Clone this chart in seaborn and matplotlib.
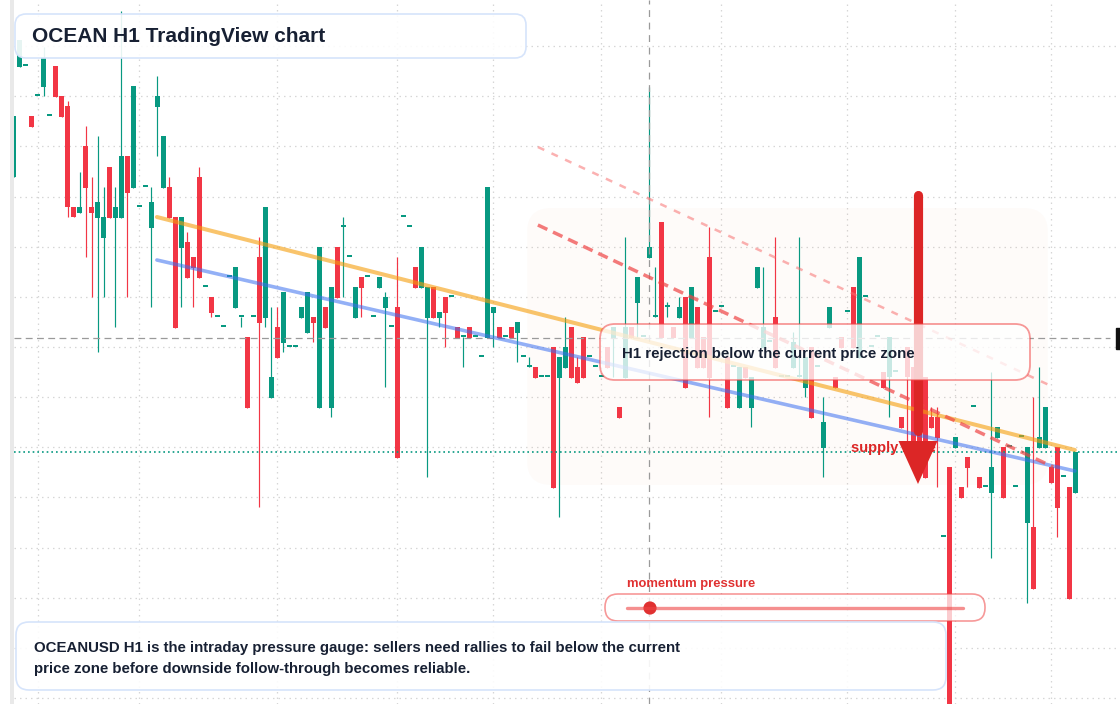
import numpy as np
import pandas as pd
import matplotlib
matplotlib.use("Agg")
import matplotlib.pyplot as plt
import seaborn as sns
from matplotlib.patches import FancyBboxPatch, Rectangle, Polygon, Circle
from matplotlib.lines import Line2D
from matplotlib.transforms import IdentityTransform

# ---- OCEANUSD H1 candles ----
opens = [
    .623, .733, .734, .684, .704, .713, .684, .734, .704, .694,
    .593, .587, .654, .593, .582, .562, .633, .582, .582, .644,
    .612, .593, .613, .572, .693, .612, .613, .583, .552, .558,
    .543, .623, .513, .503, .483, .473, .523, .492, .483, .463,
    .483, .543, .482, .402, .473, .457, .453, .453, .482, .467,
    .483, .392, .493, .392, .553, .573, .543, .482, .523, .523,
    .483, .512, .492, .473, .493, .583, .573, .533, .512, .482,
    .513, .482, .503, .503, .473, .463, .473, .463, .443, .462,
    .487, .473, .463, .473, .467, .443, .433, .433, .423, .423,
    .453, .422, .432, .473, .433, .463, .443, .433, .423, .453,
    .462, .393, .422, .473, .497, .463, .542, .483, .578, .493,
    .473, .482, .503, .462, .493, .463, .543, .488, .493, .443,
    .433, .392, .433, .392, .512, .452, .458, .483, .423, .423,
    .432, .423, .412, .453, .433, .352, .472, .423, .463, .488,
    .513, .442, .503, .453, .463, .428, .423, .428, .383, .453,
    .433, .413, .423, .383, .383, .263, .333, .352, .313, .343,
    .393, .323, .313, .307, .362, .353, .353, .313, .363, .277,
    .273, .352, .352, .333, .353, .323, .313, .307,
]
highs = [
    .684, .760, .734, .684, .704, .753, .684, .734, .704, .699,
    .593, .628, .674, .623, .664, .613, .633, .613, .789, .644,
    .714, .593, .613, .613, .724, .664, .623, .583, .583, .568,
    .543, .633, .513, .503, .483, .473, .523, .533, .483, .463,
    .483, .563, .593, .493, .493, .508, .453, .453, .493, .508,
    .483, .553, .493, .513, .553, .583, .543, .513, .523, .523,
    .483, .523, .508, .473, .543, .583, .573, .533, .553, .513,
    .513, .488, .503, .503, .473, .463, .473, .463, .443, .613,
    .493, .473, .463, .473, .478, .443, .443, .433, .423, .423,
    .453, .443, .483, .473, .443, .463, .443, .433, .423, .453,
    .473, .393, .563, .473, .523, .463, .713, .533, .578, .498,
    .473, .503, .503, .513, .493, .463, .573, .488, .493, .443,
    .433, .433, .433, .423, .533, .533, .458, .563, .423, .423,
    .468, .563, .443, .453, .433, .403, .493, .423, .463, .488,
    .513, .543, .503, .453, .463, .428, .463, .428, .383, .453,
    .433, .413, .423, .393, .393, .263, .333, .363, .313, .343,
    .393, .323, .313, .428, .373, .353, .353, .313, .363, .353,
    .403, .433, .393, .333, .353, .323, .313, .348,
]
lows = [
    .623, .733, .734, .673, .704, .704, .684, .703, .683, .583,
    .583, .587, .543, .503, .448, .503, .582, .473, .582, .503,
    .612, .593, .613, .493, .644, .612, .582, .472, .493, .522,
    .493, .522, .513, .483, .483, .473, .523, .492, .473, .392,
    .483, .293, .473, .402, .442, .448, .453, .453, .482, .467,
    .458, .392, .472, .383, .502, .503, .543, .482, .483, .523,
    .483, .512, .413, .473, .342, .583, .573, .512, .512, .323,
    .482, .473, .453, .503, .462, .433, .462, .463, .443, .462,
    .453, .462, .463, .462, .438, .443, .433, .422, .423, .423,
    .312, .283, .432, .422, .417, .422, .443, .433, .423, .432,
    .423, .382, .422, .462, .463, .463, .542, .483, .462, .483,
    .462, .482, .412, .462, .432, .432, .383, .488, .493, .392,
    .433, .392, .422, .373, .512, .452, .458, .432, .423, .423,
    .432, .423, .403, .382, .433, .323, .472, .412, .452, .488,
    .452, .442, .503, .453, .463, .412, .383, .428, .372, .357,
    .357, .338, .322, .372, .313, .263, .094, .352, .302, .313,
    .393, .312, .313, .242, .362, .302, .353, .313, .363, .197,
    .211, .352, .352, .317, .263, .323, .201, .307,
]
closes = [
    .684, .760, .734, .673, .704, .742, .684, .703, .683, .593,
    .583, .593, .612, .587, .598, .583, .582, .593, .644, .607,
    .714, .593, .613, .598, .704, .664, .582, .472, .583, .522,
    .532, .522, .513, .487, .483, .473, .523, .533, .483, .392,
    .483, .477, .593, .423, .442, .508, .453, .453, .493, .508,
    .477, .553, .472, .513, .502, .573, .543, .513, .512, .523,
    .483, .523, .503, .473, .342, .583, .573, .512, .553, .513,
    .482, .488, .487, .503, .462, .463, .462, .463, .443, .613,
    .493, .462, .463, .462, .478, .443, .433, .422, .423, .423,
    .312, .443, .453, .422, .417, .422, .443, .433, .423, .432,
    .473, .382, .473, .462, .523, .463, .553, .483, .462, .493,
    .462, .493, .412, .513, .432, .432, .422, .488, .493, .392,
    .433, .433, .422, .423, .533, .473, .458, .432, .423, .423,
    .458, .423, .443, .382, .433, .378, .493, .412, .452, .488,
    .452, .543, .503, .453, .463, .412, .463, .428, .372, .423,
    .357, .338, .322, .372, .362, .263, .094, .363, .302, .332,
    .393, .312, .313, .333, .373, .302, .353, .313, .363, .353,
    .211, .363, .393, .317, .292, .323, .201, .348,
]

# chart furniture
time_grid_idx = [4, 21, 44, 64, 80, 98, 118, 139, 157, 173]
price_grid = [0.102, 0.152, 0.202, 0.252, 0.303, 0.353, 0.403, 0.453,
              0.503, 0.553, 0.603, 0.654, 0.704, 0.754]
current_price = 0.462
teal_level = 0.348
crosshair_idx = 106

trend_idx = [23.9, 176.9]
orange_trend = [0.583, 0.350]
blue_trend = [0.540, 0.329]
red_dash_idx = [87.4, 173.3]
red_dash_hi = [0.653, 0.413]
red_dash_lo = [0.575, 0.333]
zone_idx = [85.6, 172.4]
zone_price = [0.315, 0.592]
arrow_idx = 150.75
arrow_from, arrow_head, arrow_tip = 0.605, 0.359, 0.316

title = "OCEAN H1 TradingView chart"
note_text = "H1 rejection below the current price zone"
supply_label = "supply zone"
gauge_label = "momentum pressure"
summary = ("OCEANUSD H1 is the intraday pressure gauge: sellers need rallies to fail below the current\n"
           "price zone before downside follow-through becomes reliable.")

W, H = 1120, 704
UP, DOWN = "#089981", "#f23645"
INK = "#172033"

sns.set_theme(style="white")
plt.rcParams["font.family"] = ["Liberation Sans", "DejaVu Sans"]

fig = plt.figure(figsize=(W / 100, H / 100), dpi=100)
fig.patch.set_facecolor("white")
ax = fig.add_axes([14 / W, 0, (W - 14) / W, 1])
ax.set_facecolor("white")

df = pd.DataFrame({"open": opens, "high": highs, "low": lows, "close": closes})
df["idx"] = np.arange(len(df))
colors = np.where(df["close"] >= df["open"], UP, DOWN)

ax.vlines(df["idx"], df["low"], df["high"], colors=colors, lw=0.85, zorder=3)
body_h = np.maximum((df["close"] - df["open"]).abs(), 0.0016)
ax.bar(df["idx"], body_h, bottom=np.minimum(df["open"], df["close"]),
       width=0.84, color=colors, lw=0, zorder=4)

ax.set_xlim(0.083, 184.42)
ax.set_ylim(0.096, 0.800)

# grid
ax.set_xticks(time_grid_idx)
ax.set_yticks(price_grid)
ax.grid(True, color="#d6d6d6", linestyle=(0, (1.2, 3.2)), lw=0.9, zorder=0)
ax.tick_params(length=0, labelleft=False, labelbottom=False)
for s in ax.spines.values():
    s.set_visible(False)

# shaded zone
(zx0, zy0) = ax.transData.transform((zone_idx[0], zone_price[0]))
(zx1, zy1) = ax.transData.transform((zone_idx[1], zone_price[1]))
ax.add_patch(FancyBboxPatch((zx0, zy0), zx1 - zx0, zy1 - zy0,
                            boxstyle="round,pad=0,rounding_size=24",
                            transform=IdentityTransform(), facecolor="#f97316",
                            alpha=0.022, lw=0, zorder=1))

# reference lines
ax.hlines(current_price, 0.083, 182.7, colors="#9a9a9a", lw=0.9,
          linestyles=[(0, (5.5, 3.5))], zorder=5)
ax.axhline(teal_level, color=UP, lw=1.2, linestyle=(0, (1, 1.8)), zorder=5)
ax.axvline(crosshair_idx, color="#9a9a9a", lw=0.9, linestyle=(0, (5.5, 4.5)), zorder=5)
ax.add_patch(Rectangle((183.75, 0.451), 5, 0.021, color="#111111", zorder=9))

# trend lines
sns.lineplot(x=trend_idx, y=orange_trend, ax=ax, color="#f59e0b", alpha=0.6, lw=2.9, zorder=6)
sns.lineplot(x=trend_idx, y=blue_trend, ax=ax, color="#3b6ff0", alpha=0.55, lw=2.6, zorder=6)
ax.plot(red_dash_idx, red_dash_hi, color="#f87171", alpha=0.55, lw=1.8,
        linestyle=(0, (2.8, 3.2)), zorder=6)
ax.plot(red_dash_idx, red_dash_lo, color="#ef4444", alpha=0.7, lw=2.5,
        linestyle=(0, (3, 1.8)), zorder=6)

# supply label and arrow
ax.text(139.6, 0.352, supply_label, color="#dc2626", fontsize=10.5,
        fontweight="bold", va="center", ha="left", zorder=7)
ax.plot([arrow_idx, arrow_idx], [arrow_from, arrow_head + 0.01], color="#dc2626",
        lw=6.6, solid_capstyle="round", zorder=8)
ax.add_patch(Polygon([(arrow_idx - 3.25, arrow_head), (arrow_idx + 3.25, arrow_head),
                      (arrow_idx, arrow_tip)], closed=True, color="#dc2626", lw=0, zorder=8))


# ---- overlay boxes (pixel layout) ----
def box_px(x0, y0, x1, y1, r, **kw):
    p = FancyBboxPatch((x0, H - y1), x1 - x0, y1 - y0,
                       boxstyle=f"round,pad=0,rounding_size={r}",
                       transform=IdentityTransform(), **kw)
    fig.add_artist(p)


fig.add_artist(Rectangle((10, 0), 4, H, transform=IdentityTransform(),
                         color="#e9e9e9", lw=0))

box_px(15, 14, 526, 58, 11, facecolor=(1, 1, 1, 0.9), edgecolor="#d6e4fb", lw=1.2)
fig.text(32 / W, 1 - 37 / H, title, fontsize=15, fontweight="bold", color=INK,
         va="center", ha="left")

box_px(600, 324, 1030, 380, 15, facecolor=(1, 1, 1, 0.78),
       edgecolor=(0.94, 0.27, 0.27, 0.55), lw=1.3)
fig.text(622 / W, 1 - 354 / H, note_text, fontsize=10.8, fontweight="bold",
         color=INK, va="center", ha="left")

fig.text(627 / W, 1 - 584 / H, gauge_label, fontsize=9.4, fontweight="bold",
         color="#e03131", va="center", ha="left")
box_px(605, 594, 985, 621, 13, facecolor=(1, 1, 1, 0.75),
       edgecolor=(0.94, 0.27, 0.27, 0.55), lw=1.2)
fig.add_artist(Line2D([627, 963], [H - 608, H - 608], transform=IdentityTransform(),
                      color="#ef4444", alpha=0.6, lw=2.4))
fig.add_artist(Circle((650, H - 608), 6.6, transform=IdentityTransform(),
                      color="#e03131", lw=0))

box_px(16, 622, 946, 690, 13, facecolor=(1, 1, 1, 0.9), edgecolor="#d6e4fb", lw=1.2)
fig.text(34 / W, 1 - 658.5 / H, summary, fontsize=10.8, fontweight="bold", color=INK,
         va="center", ha="left", linespacing=1.6)

fig.savefig("out.png", dpi=100)
